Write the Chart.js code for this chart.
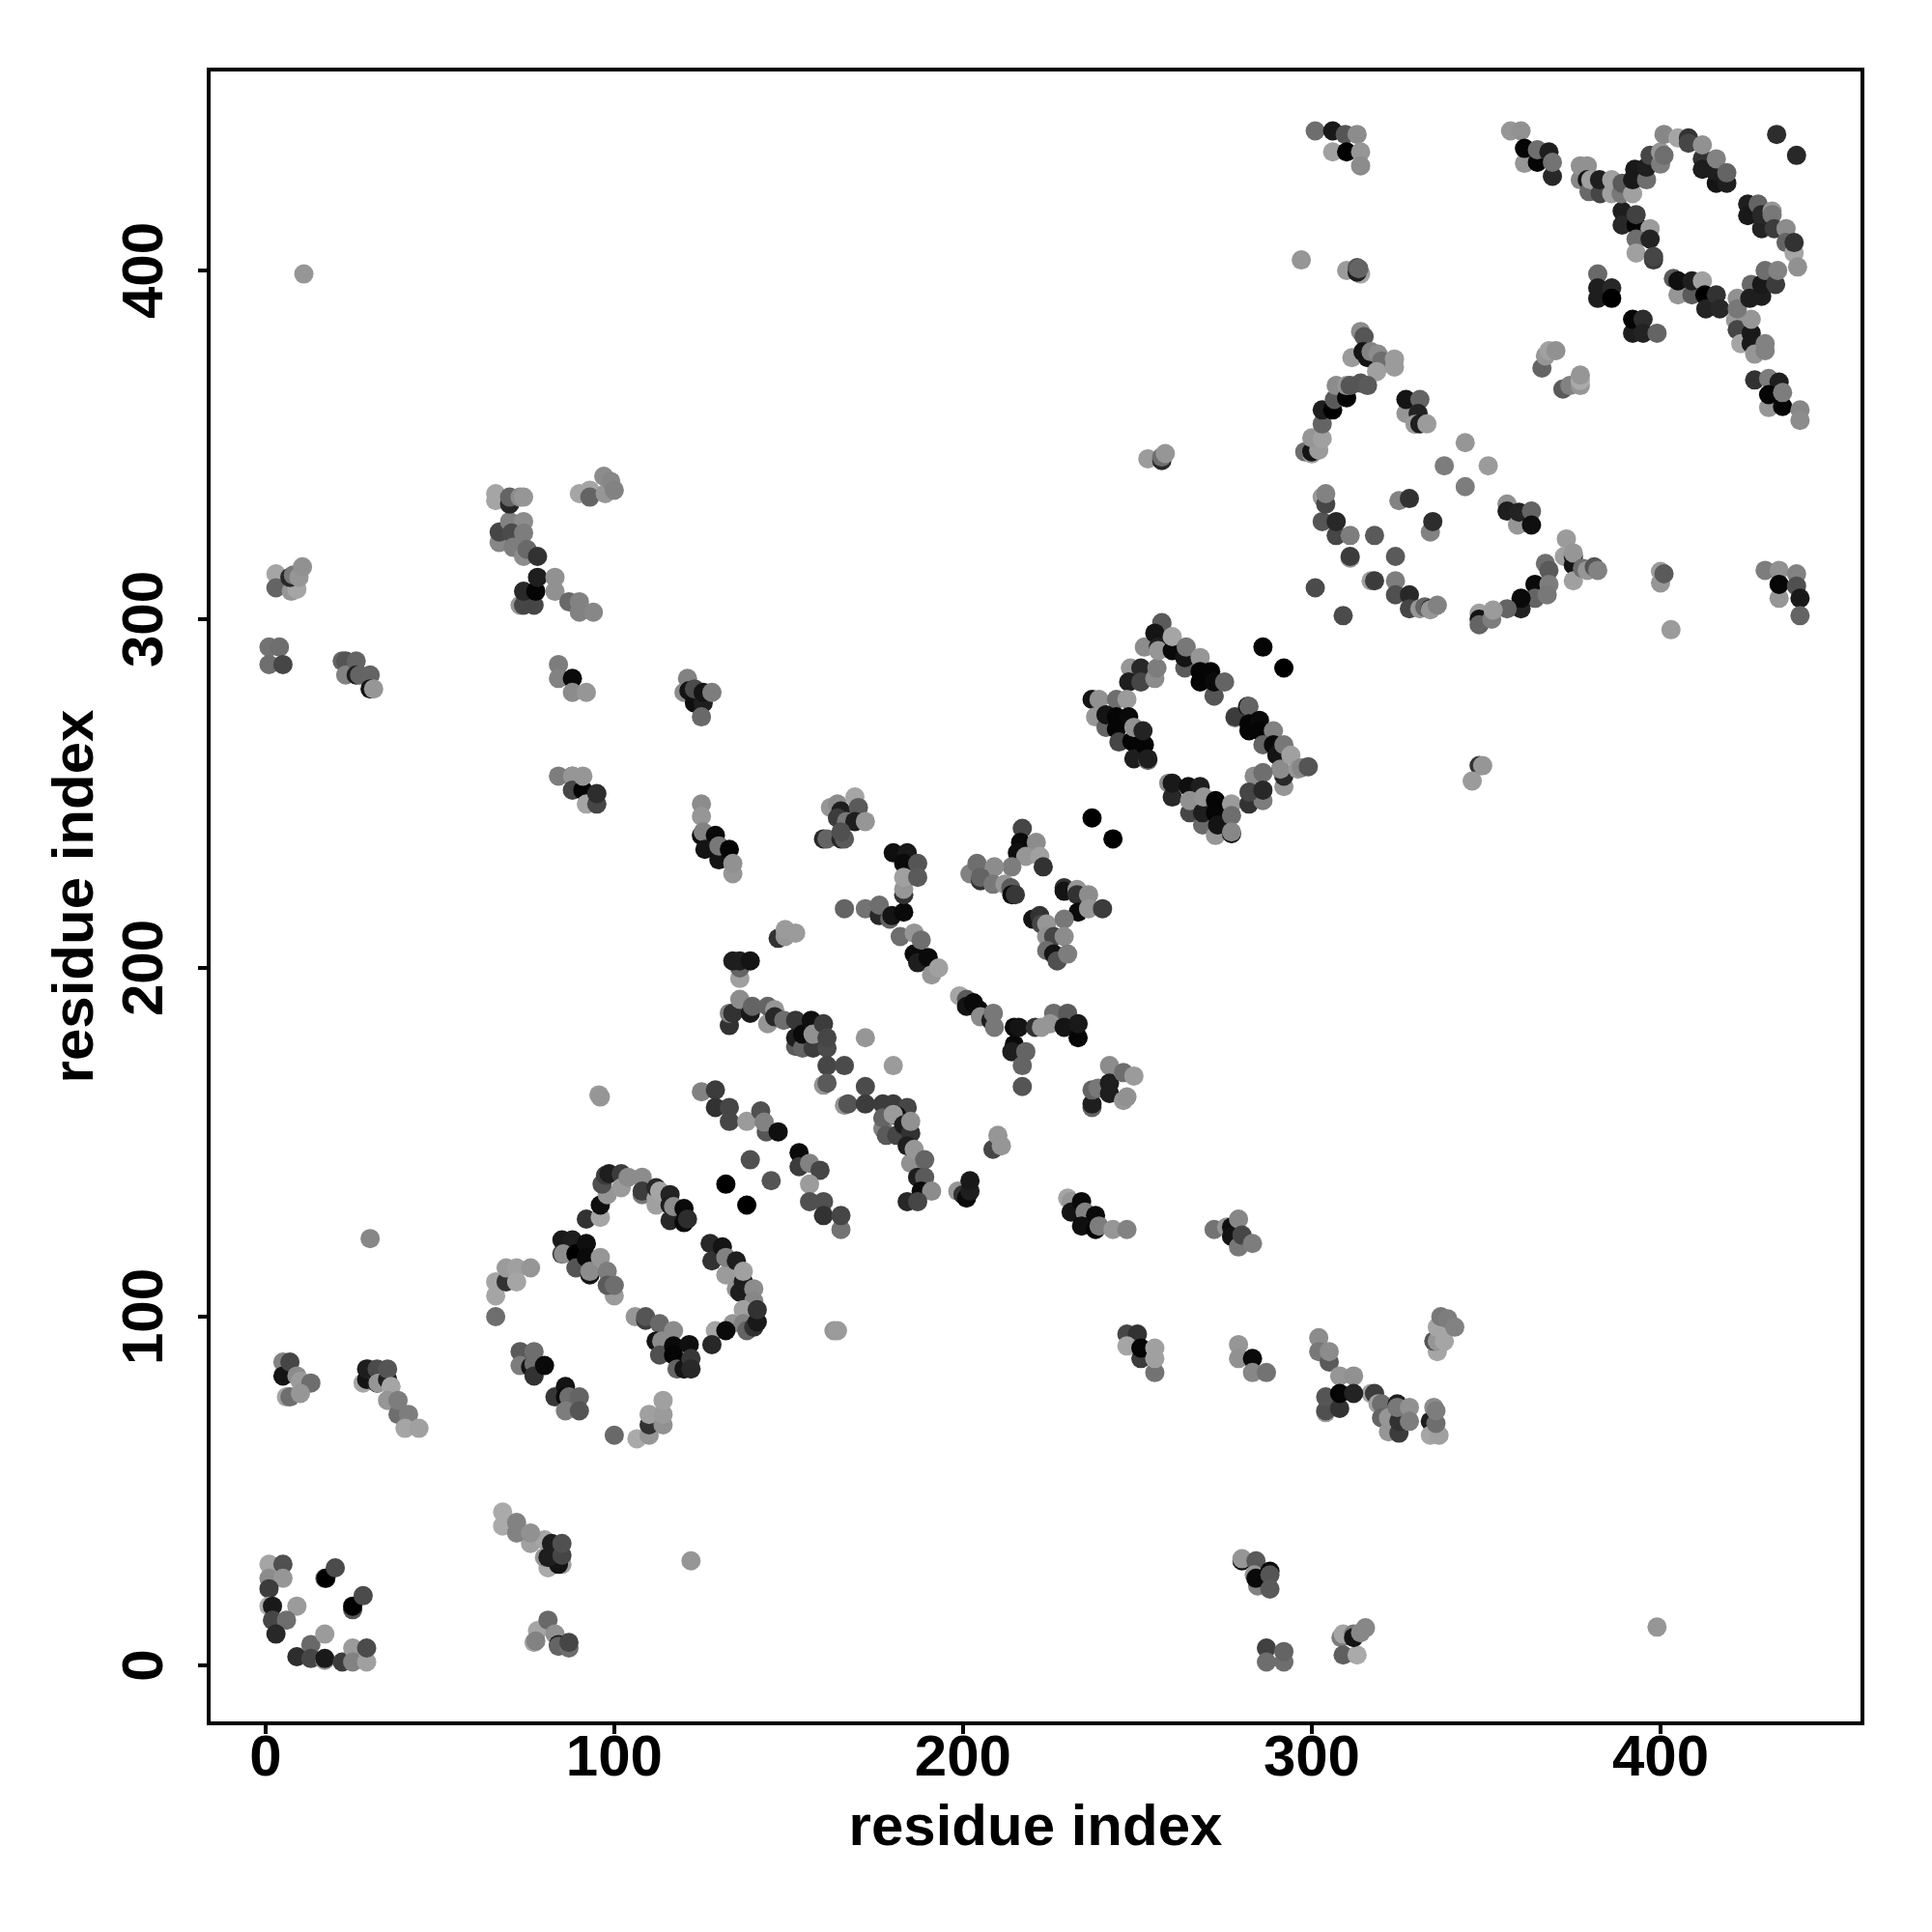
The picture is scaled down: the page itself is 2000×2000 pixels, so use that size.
<!DOCTYPE html>
<html>
<head>
<meta charset="utf-8">
<title>residue contacts</title>
<script src="https://cdn.jsdelivr.net/npm/chart.js@4/dist/chart.umd.min.js"></script>
<style>
html, body { margin: 0; padding: 0; background: #fff; }
canvas { display: block; }
</style>
</head>
<body>
<canvas id="myChart" width="2000" height="2000"></canvas>
<script>
var tickValues = [0, 100, 200, 300, 400];
var axisName = 'residue index';

// every contact: [residue x, residue y, grey level 0-255]
var cornerLowLeft = [[1,29,165],[5,29,80],[1,25,140],[5,25,150],[1,22,60],[1,17,170],[2,17,25],[9,17,155],[2,13,70],[6,13,110],[3,9,40],[9,2.5,45],[13,6,105],[13,2,70],[17,1.5,150],[17,2,25],[17,9,155],[22,1,60],[25,5,155],[25,1,130],[29,1,160],[29,5,75],[17,25,130],[17.3,25,0],[20,28,75],[25,16,85],[25,17,0],[28,20,75],[122,30,150]];
var lowLeftMid = [[76,35,160],[80,36,165],[68,44,170],[68,40,170],[72,41,130],[72,38,130],[76,38,145],[81,28,170],[85,29,160],[80,31,150],[84,29,20],[81,31,30],[82,35,30],[85,31.6,70],[85,35,80]];
var lowLeftFoot = [[78,10,165],[77,6.6,165],[77.5,7,130],[81,13,105],[83,9,145],[84,6,30],[84,5.5,100],[87,5,110],[87,6.6,70]];
var leftArm = [[5,87,130],[5,83,20],[7,87,70],[9,83,140],[10,81.5,155],[13,81,110],[6,77,165],[7,77,110],[10,78,150]];
var leftTail = [[28,81,165],[29,82,20],[29.5,85,130],[29,85,30],[32,85,75],[32,81,30],[32.3,81,150],[35,82,30],[35,85,85],[36,80,165],[35,76,150],[38,72,110],[38,76,125],[41,72,125],[40,68,165],[44,68,160]];
var strandA = [[73,90,90],[77,90,110],[73,86,125],[76,85.6,20],[77,86.5,110],[77,83,50],[80,86,10],[83,77,55],[86,80,20],[86,77,10],[87,77,110],[90,77,100],[86,73,125],[90,73,85]];
var arcLowLeft = [[66,100,110],[66,110,165],[66,106,165],[69,110,50],[69,114,155],[72,114,160],[72,110,165],[76,114,150]];
var arcBottom = [[100,66,105],[106.5,65,170],[110,66,150],[110,69,50],[110,72,160],[114,69,145],[114,72,155],[114,76,160]];
var domainOneLeft = [[85,122,25],[88,122,30],[85,118,45],[85.4,118,140],[89,118,0],[89,114,85],[92,121,15],[92,117,10],[93,112,20],[93,113,140],[96,117,150],[98,113,125],[100,106,155],[98,109,90],[100,109,110]];
var domainOneTop = [[92,128,50],[96,128.5,165],[96,132,15],[98,135,150],[96.5,138,80],[97.5,140.5,60],[98.5,141,30],[102,141,60],[102,137,155],[104,140,140],[108,140,140],[108,135,120],[108,136,60],[112,132,160],[112,134,160],[112,137,40],[113,136,165],[116,135,35],[116,127.6,40],[116,132,30],[117,131.6,140],[120,131,10],[120,127,10],[121,128,45]];
var domainOneRight = [[127.5,121,40],[128,116,50],[131,120,20],[132,112,155],[132,117,130],[135,116,30],[135,108,150],[136,107,30],[137,110,30],[137,113,160],[140,108,140],[140,104.5,135],[134,98,150],[137,102,160],[137,98,130],[138,96,100],[140,97,50],[141,98.5,25],[141,102,50],[129,96,165],[132,96,10],[128,92,40]];
var domainOneLow = [[106,100,150],[109,99,60],[109,100,85],[113,98,105],[117,96,140],[112,93,20],[113.6,93,140],[113,89,80],[117,91.6,10],[117,89,5],[118,85,100],[120,85,20],[121.5,92,15],[122,88,55],[122,85,40]];
var midDiagonal = [[132,138,0],[138,132,0],[139,145,80],[145,139,85],[95.6,163.6,155],[96,163,150],[163,96,150],[164,96,155]];
var strandB = [[125,164.5,130],[129,165,60],[129,160,50],[133,160,70],[133,156,70],[138,156,155],[142,159,80],[143.6,153,85],[143,155.8,130],[147,153,15],[153,147,10],[153,143,60],[156,144,130],[159,142,70],[156,138,155],[156,133,80],[160,133,80],[160,129,50],[165,125,115],[165,129,70]];
var strandC = [[125,247,140],[125,243.5,150],[125,238,10],[125.5,239,130],[129,238,10],[126,234,20],[130,231,20],[130,235,120],[133,234,5],[134,227,150],[134,230,145]];
var patchTop = [[162,246,150],[164,247,140],[169,249,165],[165,245,30],[170,246,90],[164,243,60],[166.6,242,120],[169,242,30],[172,242,150],[160,237,40],[161,237,100],[165,237,40],[166,237,90],[165,239,80]];
var stemTop = [[180,233,15],[184,233,25],[183,230,10],[183,221,50],[183,222.6,150],[183,226,160],[187,230,85],[187,226,90]];
var branchA = [[166,217,100],[172,217,115],[176,215,40],[176,218,110],[179,214,100],[179.6,215,20],[183,216,10],[182,209,110],[186,204,10],[186,210,150],[188,208,110],[187,201.5,30],[190,203,10],[191,198,150],[193,200,160]];
var smallA = [[147,208.5,50],[149,209,150],[149,211,155],[152,210,155]];
var smallB = [[136,197,160],[136,200,100],[134,202,30],[136,202,30],[139,202,20]];
var branchB = [[133,183.5,50],[133,187,130],[134,187,50],[136,191,140],[139,187,25],[139.6,189,100],[144,184,150],[144,189,100],[146,188,150],[146,186,40],[148.6,185,110],[152,177.5,90],[152,180,30],[152,185,55],[154,177,100],[154,181,10],[156.5,185,15],[157,177,60],[157,181,145],[160,184,60],[161,177,75],[161,180,70],[161,172,70],[166,172,75],[160,166.4,150],[161,167,90],[172,180,150],[180,172,155]];
var branchC = [[172,166,75],[166,160.6,150],[167,161,85],[172,161,60],[177,161,60],[180,161,60],[184,160,70],[177,154,130],[177,157,100],[178,152,90],[181,157.6,10],[180,158,155],[181,152,70],[183,155,30],[185,152.6,50],[185,156,145],[185,144,145],[184,149,30],[186,148,150],[189,145,100],[187,140,30],[189,140,90],[188,136,10],[191,136,140],[184,133,40],[187,133,70]];
var smallC = [[208.6,148,70],[210,152,150],[211,149,150],[198.5,136,150],[200,135,50],[201,134,10],[202,136,30],[202,139,25]];
var strandD = [[230,134,165],[231,133,150],[231,130,20],[234,133,10],[235,130,130],[238,129,10],[234,126,15],[238,125,5],[239,126,125],[243,125,150],[247,125,130]];
var blackPairs = [[237,243,0],[243,237,0],[286,292,5],[292,286,0]];
var crossA = [[217,240,70],[216.5,236,10],[215.6,233,15],[221,236,140],[218,232,150],[222,232,160],[223,229,50],[214,229,125],[202,227,130],[205,225,50],[204,230,110],[209,229,140],[205,226,100],[208.6,224,120],[212,224,150],[213.7,223,90],[214,221,10],[215,221,55]];
var crossB = [[229,223,50],[229,222,20],[232.7,222.5,150],[232.7,221,50],[236,221,140],[233,216,10],[236,217,150],[240,217,60],[220,214,20],[222,215,50],[222.5,212.6,70],[224,212.6,150],[229,214,120],[224,209,145],[226,209,70],[224,205,110],[226,204,20],[227,202,80],[229,209,140],[230,204,125]];
var branchD = [[199,192,165],[201,191,90],[201,189,20],[203,190,10],[204.5,188,10],[205,186,140],[208,185,30],[208.7,187,120],[209,183,120],[214.7,178,10],[214.7,183,10],[216,183,20],[214,176,30],[218,176,100],[217,172,100],[217,166,85],[220.7,183,50],[222.5,183,150],[226,187,110],[225,184,150],[230,187,90],[229,183,20],[233,180,5],[233,184,25]];
var patchRight = [[237,160,100],[237,161,30],[237,165,100],[238.7,165.5,120],[242,172,140],[242,167,30],[242,164,30],[246,170,110],[249,169,155],[246,162,150],[247,163,145]];
var diamondTop = [[257,298.5,130],[257,299,90],[252,292,140],[255,296,20],[256,292,30],[256,291,150],[260,291,10],[260,295,165],[263.6,286,90],[263.6,289,20],[264,292,120],[268,289,150],[268,282,5],[268,285,5],[271,285,5],[272,278,150],[272,278,85],[272,282,10],[275,282,100]];
var diamondLeft = [[248,286,150],[251,286,40],[247.5,282,30],[251,282,70],[255,283,140],[255.6,286,125],[237,277,20],[239,277,145],[238,272,150],[244,277,110],[247,277,155],[241,269,100],[241,272.6,20],[244,272,5],[247.5,272,10],[244,268.5,5],[244.7,264.8,70],[248.4,265,5],[249,269,145],[249,260,30],[252,264,5],[251.6,268,35],[253,259.5,110],[253,260,30]];
var diamondRight = [[278,271.7,150],[278,272,60],[281.6,275,15],[282,275,100],[282,270,5],[282,268,5],[285,271,10],[285,268,5],[289,268,130],[286,264,100],[289,264,10],[290,261,20],[292,264,120],[292,252,150],[292,255,40],[291,257,140],[294,261,160],[296,257,150],[297,257.4,135],[299,257.7,85],[283.5,255,140],[286,256,110],[282,247,50],[286,248,125],[282,250.4,70],[286,251,40]];
var diamondLow = [[259,253,140],[260,249,40],[260,253,25],[264.6,252,15],[268,252,30],[265,244.5,70],[265,248,145],[268.7,241,105],[268.7,244.5,30],[269,249,150],[272.4,248,5],[272.4,244.5,5],[272.4,238,150],[273,241,20],[277,247,155],[277,243.7,110],[277,238.5,10],[277,239,135]];
var fragmentA = [[348,258,50],[349,258,150],[346,253.6,155]];
var fragmentB = [[301,309,75],[309,301,75]];
var fragmentC = [[253,346,155],[257,345.5,40],[257,346.5,110],[258,347.5,150]];
var ringLeft = [[298,348,110],[300,347.4,160],[300,348,20],[302,348.5,155],[300,352,150],[303,351.8,160],[303,356,100],[303,360,30],[306,360,0],[306.5,363,90],[307,367,140],[310,363.5,5],[310,367,150],[311,367,85],[314,367.7,85],[316,367,90]];
var ringTop = [[327,359,150],[327,363,20],[331,363,100],[330.5,359,35],[329.6,355.9,155],[331,356,30],[333,356,155]];
var diamondTiny = [[344,350.6,150],[338,344,125],[350.6,344,155],[344,338,125]];
var ringSideA = [[303,328,85],[303,335,150],[303.7,335.4,160],[304,333,70],[304,336,130],[307,324,70],[307,328,40],[311,324,125],[318,324,90],[325,334,130],[328,334.6,50],[334,325,130],[334.7,328,45],[311,317.5,150],[311,318,60],[324,318,90]];
var ringSideB = [[317,311,160],[318,311,60],[324,311,125],[324,307,80],[328,307,40],[328,303,70],[331,303,150],[332.4,303.5,100],[334,303,30],[334,302.7,150],[336,304,130]];
var ringRight = [[356,333,145],[356,331,30],[359,327,150],[359.4,330.7,35],[363,331,100],[363,327,15]];
var ringBase = [[367,316,110],[368,314,90],[364,310,10],[368,310,125],[364,306,100],[367.5,307,120],[360,303,35],[360,306,10],[356,303,100],[348,301.7,160],[348,300,20],[348,298.4,100],[351.6,300,125],[352,302.6,155]];
var ringLight = [[373,323,155],[372.4,318,160],[375,318,30],[375,315.5,20],[375,319,150],[375,311,160],[377.6,314.6,110],[379,314,150],[381,315,85],[382,314,130]];
var farSingles = [[400,310.4,150],[400,313.7,155],[401,313,90],[403,297,155],[399,11,150],[11,399,150],[30,122.4,135]];
var farRight = [[430,314,125],[434,314,145],[434,306,150],[434,310,5],[439,313,130],[439,309.5,80],[440,306,25],[440,301,100]];
var farRightTop = [[427,368.6,50],[431,369,125],[434,368,30],[431,360.7,150],[431,364.4,5],[435,361,5],[435,365,125],[440,360,135],[440,357,140]];
var farFragment = [[366,372,100],[367,375.5,150],[368,377,160],[370,377,145],[372,366,90],[374,367,130],[377,367,150],[377,368.5,170],[377,370,150]];
var nearTop = [[357,440,150],[360,440,145],[361,430.7,150],[361,435,5],[364.7,431,5],[364.7,434.6,110],[368,434,30],[369,427,40],[369,431,115]];
var bridge = [[377,426,135],[377,430,145],[379,430,145],[379,426,20],[379.5,422.6,105],[380,426,160],[382.7,422,70],[382.5,426,30],[386,422,160],[386,426,160],[388.7,422,120],[389,425,90],[392,422,160],[392,426,25],[392.6,429,25],[396,426,110],[396,429.6,30],[397,433,70],[400,430.5,125],[400,434,150],[401,433,110],[401,439,135],[405,438,165],[408,438,50],[408,436.5,70],[412,432,50],[412,429,30],[412,436,145],[416,425,20],[415.5,428.6,30],[416,432,130],[419,425,30],[419,428,100]];
var loopRight = [[425,419,30],[425,415.7,25],[428,419,100],[429,412,35],[429,416,40],[432,417,150],[432,416,120],[432.6,412,60],[436,412,140],[436,408,100],[438.3,405,165],[438.3,408,50],[439.3,401,145]];
var loopLeft = [[389,417,30],[389,413,40],[393,413,5],[393,416,65],[397,412,155],[393,409,110],[397,409,35],[393,405,160],[398,403,60],[398,404,70],[382,399,105],[382,395,30],[382,392,30],[386,395,40],[386,392,0],[392,382,30],[392,386,5],[395,386,45],[395,382,35],[399,382,100]];
var loopBase = [[403.7,397.7,90],[405,393,150],[405,397,15],[409,393,90],[409,397,30],[412,397,160],[412.7,393,0],[413,389,35],[416,393,50],[417,389,40],[422,392,145],[422,389,120],[426,396,105],[425.6,392,30],[429,392.6,30],[429,396,25],[430,400,110],[433,396,60],[433.6,400,130]];
var loopTail = [[421.5,385.7,155],[422,383,70],[423,379,165],[426,382,25],[426,379,25],[426,386,150],[427,376,150],[430,377,130],[430,379,130],[433.3,439,45],[439,433,40]];
var upperLeftTop = [[301,440,110],[306,440,25],[309.6,439,85],[313,439,140],[306,434,160],[310,434,0],[314,434,150],[314,430,140]];
var upperFragment = [[297,403,150],[310,400,155],[314,399,165],[313,399.5,30],[313,400.8,85],[313.5,400.5,100]];
var ringApex = [[314,382.5,140],[315,381,85],[311.5,375,155],[314.7,376.7,20],[316,375,20],[317,376.7,130],[319,376,140],[320,374,110],[318.6,371,160],[323.7,374.6,155],[323.7,372.3,155]];
var topLeftA = [[3,313,165],[3,309,100],[7.4,308,150],[9,308.6,165],[7,312,40],[8,312.7,120],[9.6,312,150],[10.6,315,145]];
var topLeftB = [[1,292,115],[4,292,110],[1,287,110],[5,287,70]];
var topLeftC = [[22,288,100],[23,288,85],[23,284,130],[26,288,100],[26,284,30],[27,284,100],[30,284,100],[30,280,20],[31,280,150]];
var topMidA = [[66,336,165],[66,334,165],[70,333,40],[70,335,100],[73,335,140],[74,335,150]];
var topMidB = [[90,336,165],[93,337,165],[93,335,100],[97,341,140],[97.4,336,150],[99,339.5,135],[100,337,130]];
var topMidC = [[67,322,135],[67,325,70],[70,328,130],[74,328,140],[70.6,324.7,75],[74,324.7,125],[71,320.6,125],[74,318,140],[75,320,105],[78,318,50]];
var topMidD = [[73,304,150],[74,304,70],[77,304,70],[74,308,40],[77.5,308,5],[78,312,30],[83,312,145],[83,308,145],[87,305,105],[90,302,130],[90,305,130],[94,302,135]];
var topMidE = [[84,287,125],[84,283,130],[88,283,10],[88,279,140],[92,279,150]];
var topMidF = [[84,255,125],[88,255,100],[88,255,150],[88,251,70],[91,251,5],[91,255,150],[92,247,165],[95,247,70],[95,250,45]];
var topMidG = [[121,283,130],[120,279,140],[121.4,279.5,20],[123,276,15],[123,280,75],[125.5,276,30],[125.5,279,20],[125,272,105],[128,279,125]];
var lowMidA = [[272,125,115],[275.6,125.7,150],[277,125.7,15],[277,123,20],[279,120,120],[279,128,135],[280,123.4,70],[283,121,125]];
var lowMidB = [[247,95,70],[250,95,50],[247,91.6,165],[251,88,60],[251,91,5],[255,84,115],[255,88,160],[255,91,160]];
var lowMidC = [[279,92,150],[279,88,145],[283,88,10],[283,84,135],[287,84,115]];
var lowMidD = [[302,94,140],[302,90,120],[305,87,90],[305,90,140],[308,83,150],[312,83,145],[304,72.5,160],[304,73,80],[304,77,85],[308,73.7,50],[308,78,5],[312,78,35]];
var lowMidE = [[317,78,165],[318,78,60],[319,75,160],[320,75,110],[320,71,100],[322,71,150],[322,67,150],[324.5,75,30],[325,66.6,60],[325,70,50],[324.5,74,120],[328,74,145],[328,70,125]];
var lowMidF = [[334,70,30],[334,66,165],[336.5,66,160],[335,74,140],[335.6,69.4,110],[335.6,73,125]];
var lowMidG = [[336,90,165],[335,93,85],[336,93,150],[338,93,165],[336,97,165],[337,100,120],[339,99.4,125],[341,97,130]];
var lowRightA = [[280,30,10],[280,30.6,150],[284,30,90],[284.5,22.8,130],[283.5,26,150],[284,25,10],[288,27,10],[288,26,85],[288,21.9,90]];
var lowRightB = [[287,5,65],[287,1,110],[292,1,110],[292,4,100]];
var lowRightC = [[308.4,8,125],[309,9,165],[309,3,95],[313,3,170],[312,9,120],[312,8,20],[314,9.4,135],[315.4,10.8,135]];

var regions = [cornerLowLeft, lowLeftMid, lowLeftFoot, leftArm, leftTail, strandA, arcLowLeft, arcBottom,
  domainOneLeft, domainOneTop, domainOneRight, domainOneLow, midDiagonal, strandB, strandC, patchTop, stemTop,
  branchA, smallA, smallB, branchB, branchC, smallC, strandD, blackPairs, crossA, crossB, branchD, patchRight,
  diamondTop, diamondLeft, diamondRight, diamondLow, fragmentA, fragmentB, fragmentC, ringLeft, ringTop, diamondTiny,
  ringSideA, ringSideB, ringRight, ringBase, ringLight, farSingles, farRight, farRightTop, farFragment, nearTop,
  bridge, loopRight, loopLeft, loopBase, loopTail, upperLeftTop, upperFragment, ringApex, topLeftA, topLeftB,
  topLeftC, topMidA, topMidB, topMidC, topMidD, topMidE, topMidF, topMidG, lowMidA, lowMidB, lowMidC, lowMidD,
  lowMidE, lowMidF, lowMidG, lowRightA, lowRightB, lowRightC];

var plotBox = {
  id: 'plotBox',
  afterDatasetsDraw: function (chart) {
    var a = chart.chartArea, c = chart.ctx;
    c.save();
    c.lineWidth = 4;
    c.strokeStyle = '#000';
    c.strokeRect(a.left, a.top, a.right - a.left, a.bottom - a.top);
    c.restore();
  }
};

function setTicks(axis) {
  axis.ticks = tickValues.map(function (v) { return { value: v }; });
}

var labelFont = { family: 'Liberation Sans', size: 60, weight: 'bold' };

var ctx = document.getElementById('myChart');
new Chart(ctx, {
  type: 'scatter',
  data: {
    datasets: regions.map(function (r) {
      return {
        data: r.map(function (p) { return { x: p[0], y: p[1], level: p[2] }; }),
        pointRadius: 10,
        pointBorderWidth: 0,
        pointBackgroundColor: function (c) {
          var g = c.raw ? c.raw.level : 0;
          return 'rgb(' + g + ',' + g + ',' + g + ')';
        }
      };
    })
  },
  plugins: [plotBox],
  options: {
    responsive: false,
    devicePixelRatio: 1,
    animation: false,
    layout: { padding: { top: 72, right: 72, left: 0, bottom: 0 } },
    plugins: { legend: { display: false }, tooltip: { enabled: false } },
    scales: {
      x: {
        min: -16.3,
        max: 457.9,
        afterBuildTicks: setTicks,
        afterFit: function (axis) { axis.height = 216; },
        grid: { drawOnChartArea: false, color: '#000', lineWidth: 4, tickLength: 11 },
        border: { display: false },
        ticks: { color: '#000', font: labelFont, padding: -10, maxRotation: 0, autoSkip: false },
        title: { display: true, text: axisName, color: '#000', font: labelFont, padding: { top: 0, bottom: 71 } }
      },
      y: {
        min: -16.6,
        max: 457.6,
        afterBuildTicks: setTicks,
        afterFit: function (axis) { axis.width = 216; },
        grid: { drawOnChartArea: false, color: '#000', lineWidth: 4, tickLength: 11 },
        border: { display: false },
        ticks: { color: '#000', font: labelFont, padding: 3, minRotation: 90, maxRotation: 90, crossAlign: 'center', autoSkip: false },
        title: { display: true, text: axisName, color: '#000', font: labelFont, padding: { top: 43, bottom: 0 } }
      }
    }
  }
});
</script>
</body>
</html>
